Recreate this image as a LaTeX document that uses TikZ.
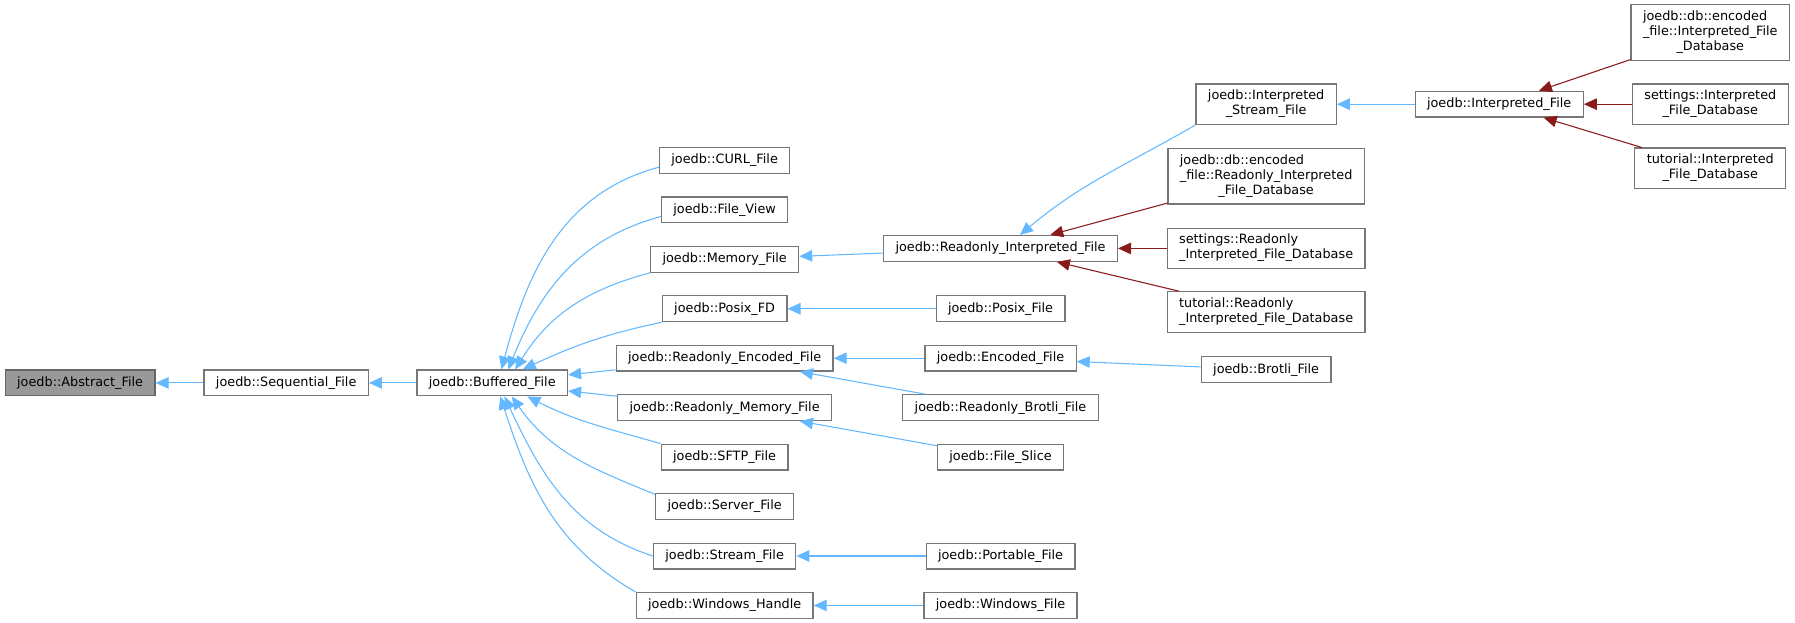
\documentclass[tikz,border=0pt]{standalone}
\usepackage{fontspec}
\setmainfont{DejaVu Sans}
\usepackage{xcolor}
\usetikzlibrary{arrows.meta}
\definecolor{edgeblue}{HTML}{63B8FF}
\definecolor{edgered}{HTML}{8B1A1A}
\definecolor{boxgray}{HTML}{999999}
\definecolor{basegray}{HTML}{666666}
\definecolor{framegray}{HTML}{777777}
\newcommand{\mline}[2]{\begin{tabular}{@{}l@{}}#1\\\multicolumn{1}{@{}c@{}}{#2}\end{tabular}}
\tikzstyle{cls} = [draw=framegray, fill=white, line width=0.8pt, inner xsep=7.8pt, inner ysep=3.5pt, minimum height=16.9pt, font=\fontsize{8.4}{9.75}\selectfont]
\tikzstyle{root} = [cls, draw=basegray, fill=boxgray]
\tikzset{
  % edge styles
  pub/.style={draw=edgeblue, line width=0.7pt, -{Triangle[length=8.5pt,width=7.5pt]}},
  priv/.style={pub, draw=edgered},
}

\begin{document}
\begin{tikzpicture}[x=0.75pt, y=-0.75pt]
        \useasboundingbox (0,0) rectangle (1568,544);
        % base classes
        \node(abstract)[root] at (70,334.5) {joedb::Abstract\_File};
        \node(sequential)[cls] at (250,334.5) {joedb::Sequential\_File};
        \node(buffered)[cls] at (430,334.5) {joedb::Buffered\_File};
        % children of Buffered_File
        \node(curl)[cls] at (633,140) {joedb::CURL\_File};
        \node(fileview)[cls] at (633,183.3) {joedb::File\_View};
        \node(memory)[cls] at (633,226.5) {joedb::Memory\_File};
        \node(posixfd)[cls] at (633,269.7) {joedb::Posix\_FD};
        \node(roencoded)[cls] at (633,312.9) {joedb::Readonly\_Encoded\_File};
        \node(romemory)[cls] at (633,356.1) {joedb::Readonly\_Memory\_File};
        \node(sftp)[cls] at (633,399.3) {joedb::SFTP\_File};
        \node(server)[cls] at (633,442.5) {joedb::Server\_File};
        \node(stream)[cls] at (633,485.7) {joedb::Stream\_File};
        \node(winhandle)[cls] at (633,528.9) {joedb::Windows\_Handle};
        % third column
        \node(roif)[cls] at (874,217) {joedb::Readonly\_Interpreted\_File};
        \node(posixfile)[cls] at (874,269.7) {joedb::Posix\_File};
        \node(encoded)[cls] at (874,312.9) {joedb::Encoded\_File};
        \node(robrotli)[cls] at (874,356.1) {joedb::Readonly\_Brotli\_File};
        \node(fileslice)[cls] at (874,399.3) {joedb::File\_Slice};
        \node(portable)[cls] at (874,485.7) {joedb::Portable\_File};
        \node(winfile)[cls] at (874,528.9) {joedb::Windows\_File};
        % fourth column
        \node(istream)[cls] at (1106,91) {\mline{joedb::Interpreted}{\_Stream\_File}};
        \node(dbencro)[cls] at (1106,154) {\mline{joedb::db::encoded\\\_file::Readonly\_Interpreted}{\_File\_Database}};
        \node(settingsro)[cls] at (1106,217) {\mline{settings::Readonly}{\_Interpreted\_File\_Database}};
        \node(tutorialro)[cls] at (1106,272.6) {\mline{tutorial::Readonly}{\_Interpreted\_File\_Database}};
        \node(brotli)[cls] at (1106,323) {joedb::Brotli\_File};
        % interpreted files
        \node(interp)[cls] at (1309.6,91) {joedb::Interpreted\_File};
        \node(dbenci)[cls] at (1494,28.4) {\mline{joedb::db::encoded\\\_file::Interpreted\_File}{\_Database}};
        \node(settingsi)[cls] at (1494,91) {\mline{settings::Interpreted}{\_File\_Database}};
        \node(tutoriali)[cls] at (1494,147) {\mline{tutorial::Interpreted}{\_File\_Database}};

        % inheritance edges
        \draw[pub] (sequential) -- (abstract);
        \draw[pub] (buffered) -- (sequential);
        \draw[pub] (curl.186) to[out=195,in=75] ([xshift=6pt]buffered.north);
        \draw[pub] (fileview.186) to[out=195,in=68] ([xshift=10.5pt]buffered.north);
        \draw[pub] (memory.south west) to[out=195,in=58] ([xshift=15pt]buffered.north);
        \draw[pub] (posixfd.south west) to[out=192,in=25] ([xshift=20pt]buffered.north);
        \draw[pub] (roencoded) -- (buffered);
        \draw[pub] (romemory) -- (buffered);
        \draw[pub] (sftp.north west) to[out=164,in=-27] ([xshift=23pt]buffered.south);
        \draw[pub] (server.170) to[out=158,in=-55] ([xshift=12.75pt]buffered.south);
        \draw[pub] (stream.west) to[out=162,in=-65] ([xshift=8pt]buffered.south);
        \draw[pub] (winhandle.north west) to[out=150,in=-72] ([xshift=5.25pt]buffered.south);
        \draw[pub] (roif) -- (memory);
        \draw[pub] (posixfile) -- (posixfd);
        \draw[pub] (encoded) -- (roencoded);
        \draw[pub] (robrotli) -- (roencoded);
        \draw[pub] (fileslice) -- (romemory);
        \draw[pub] (portable) -- (stream);
        \draw[pub] (winfile) -- (winhandle);
        \draw[pub] (brotli) -- (encoded);
        \draw[pub] (istream.south west) to[out=210,in=40] ([xshift=12.75pt]roif.north);
        \draw[pub] (interp) -- (istream);
        \draw[priv] (dbencro) -- (roif);
        \draw[priv] (settingsro) -- (roif);
        \draw[priv] (tutorialro) -- (roif);
        \draw[priv] (dbenci) -- (interp);
        \draw[priv] (settingsi) -- (interp);
        \draw[priv] (tutoriali) -- (interp);
\end{tikzpicture}
\end{document}
